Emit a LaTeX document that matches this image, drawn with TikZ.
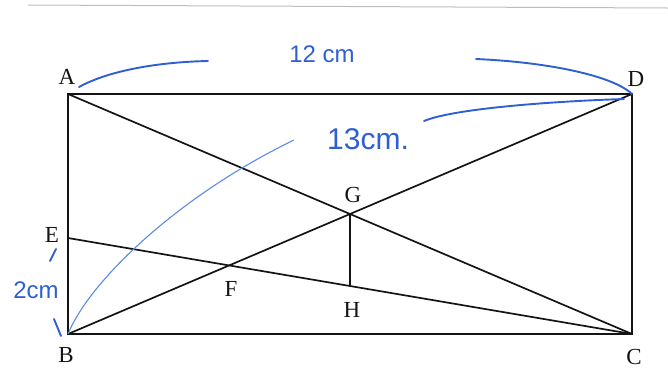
\documentclass[tikz,border=0pt]{standalone}
\usepackage{fontspec}
\setmainfont{Liberation Serif}
\newfontfamily\handfont{Liberation Sans}
\usetikzlibrary{calc}
\definecolor{ink}{HTML}{141414}
\definecolor{pen}{HTML}{2F5FD3}
\definecolor{penlight}{HTML}{5A8BE6}
\definecolor{scan}{HTML}{BDBDBD}
\tikzset{
  every node/.style={font=\fontsize{23}{27}\selectfont,text=ink,inner sep=0},
  edge/.style={line width=1.7pt,draw=ink},
  stroke/.style={line width=1.9pt,draw=pen,line cap=round},
  hand/.style={font=\handfont\fontsize{24}{28}\selectfont,text=pen}
}

\begin{document}
\begin{tikzpicture}[x=1pt,y=-1pt]
  \path[use as bounding box] (0,0) rectangle (668,368);
  \coordinate (scanL) at (28,5);
  \coordinate (scanR) at (668,8);
  \draw[scan,line width=1pt] (scanL) -- (scanR);

  % rectangle and points
  \coordinate (A) at (68,94);
  \coordinate (D) at (632,94);
  \coordinate (B) at (68,334);
  \coordinate (C) at (632,334);
  \coordinate (E) at (68,238);
  \coordinate (G) at ($(A)!0.5!(C)$);
  \coordinate (H) at ($(E)!0.5!(C)$);
  \coordinate (F) at (intersection of B--D and E--C);
  \draw[edge] (A) -- (D) -- (C) -- (B) -- cycle;
  \draw[edge] (A) -- (C);
  \draw[edge] (B) -- (D);
  \draw[edge] (E) -- (C);
  \draw[edge] (G) -- (H);

  \node (labA) at (67,77) {A};
  \node (labD) at (636,79) {D};
  \node (labB) at (66,355) {B};
  \node (labC) at (634,357) {C};
  \node (labE) at (52,235) {E};
  \node (labG) at (353,195) {G};
  \node (labF) at (231,289) {F};
  \node (labH) at (352,310) {H};

  % handwritten marks
  \node[hand] (len12) at (322,54) {12 cm};
  \node[hand,font=\handfont\fontsize{30}{34}\selectfont] (len13) at (368,139) {13cm.};
  \node[hand] (len2) at (36,290) {2cm};
  \coordinate (arcA) at (79,87);
  \coordinate (arcAend) at (208,61);
  \coordinate (arcD) at (476,59);
  \coordinate (diagD) at (624,99);
  \coordinate (diagEnd) at (424,121);
  \coordinate (diagStart) at (294,140);
  \coordinate (tickE1) at (50,261);
  \coordinate (tickE2) at (56,249);
  \coordinate (tickB1) at (54,319);
  \coordinate (tickB2) at (61,336);
  \draw[stroke] (arcA) .. controls (110,70) and (160,62) .. (arcAend);
  \draw[stroke] (arcD) .. controls (545,62) and (612,75) .. (D);
  \draw[stroke] (diagD) .. controls (560,101) and (455,108) .. (diagEnd);
  \draw[penlight,line width=1.1pt] (B) .. controls (90,280) and (180,195) .. (diagStart);
  \draw[stroke] (tickE1) -- (tickE2);
  \draw[stroke] (tickB1) -- (tickB2);
\end{tikzpicture}
\end{document}
